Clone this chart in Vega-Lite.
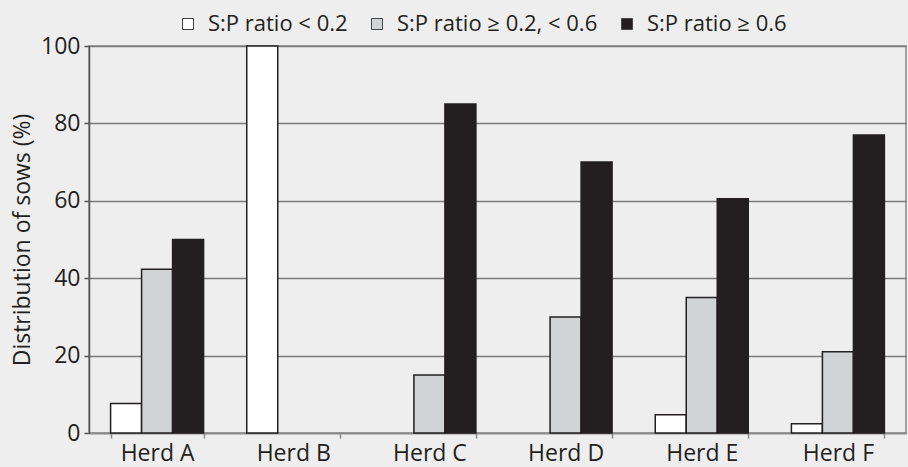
{
  "$schema": "https://vega.github.io/schema/vega-lite/v6.json",
  "width": 817,
  "height": 387,
  "autosize": {"type": "none"},
  "padding": {"left": 89, "top": 46, "right": 2, "bottom": 34},
  "background": "#eeeeee",
  "config": {
    "font": "Open Sans",
    "view": {"stroke": "#8a8a8a", "strokeWidth": 1.5}
  },
  "data": {
    "values": [
      {"herd": "Herd A", "group": "S:P ratio < 0.2", "value": 7.6},
      {"herd": "Herd A", "group": "S:P ratio ≥ 0.2, < 0.6", "value": 42.3},
      {"herd": "Herd A", "group": "S:P ratio ≥ 0.6", "value": 50},
      {"herd": "Herd B", "group": "S:P ratio < 0.2", "value": 100},
      {"herd": "Herd C", "group": "S:P ratio ≥ 0.2, < 0.6", "value": 15},
      {"herd": "Herd C", "group": "S:P ratio ≥ 0.6", "value": 85},
      {"herd": "Herd D", "group": "S:P ratio ≥ 0.2, < 0.6", "value": 30},
      {"herd": "Herd D", "group": "S:P ratio ≥ 0.6", "value": 70},
      {"herd": "Herd E", "group": "S:P ratio < 0.2", "value": 4.7},
      {"herd": "Herd E", "group": "S:P ratio ≥ 0.2, < 0.6", "value": 35},
      {"herd": "Herd E", "group": "S:P ratio ≥ 0.6", "value": 60.5},
      {"herd": "Herd F", "group": "S:P ratio < 0.2", "value": 2.4},
      {"herd": "Herd F", "group": "S:P ratio ≥ 0.2, < 0.6", "value": 21},
      {"herd": "Herd F", "group": "S:P ratio ≥ 0.6", "value": 77}
    ]
  },
  "mark": {"type": "bar", "stroke": "#231f20", "strokeWidth": 1.5},
  "encoding": {
    "x": {
      "field": "herd",
      "type": "nominal",
      "sort": ["Herd A", "Herd B", "Herd C", "Herd D", "Herd E", "Herd F"],
      "scale": {"paddingInner": 0.317, "paddingOuter": 0.1585},
      "axis": {
        "title": null,
        "labelAngle": 0,
        "tickBand": "extent",
        "labelFontSize": 23,
        "labelColor": "#231f20",
        "labelPadding": 4,
        "tickSize": 5,
        "tickColor": "#8a8a8a",
        "tickWidth": 1.5,
        "domainColor": "#8a8a8a",
        "domainWidth": 1.5
      }
    },
    "xOffset": {
      "field": "group",
      "type": "nominal",
      "scale": {"domain": ["S:P ratio < 0.2", "S:P ratio ≥ 0.2, < 0.6", "S:P ratio ≥ 0.6"], "paddingInner": 0, "paddingOuter": 0}
    },
    "y": {
      "field": "value",
      "type": "quantitative",
      "scale": {"domain": [0, 100], "nice": false},
      "axis": {
        "title": "Distribution of sows (%)",
        "titleFontSize": 23,
        "titleFontWeight": "normal",
        "titleColor": "#231f20",
        "titlePadding": 6,
        "values": [0, 20, 40, 60, 80, 100],
        "labelFontSize": 23,
        "labelColor": "#231f20",
        "labelPadding": 4,
        "tickSize": 5,
        "tickColor": "#555555",
        "tickWidth": 1.5,
        "domainColor": "#555555",
        "domainWidth": 1.5,
        "gridColor": "#7a7a7a",
        "gridWidth": 1.5
      }
    },
    "color": {
      "field": "group",
      "type": "nominal",
      "scale": {
        "domain": ["S:P ratio < 0.2", "S:P ratio ≥ 0.2, < 0.6", "S:P ratio ≥ 0.6"],
        "range": ["#ffffff", "#d1d3d4", "#231f20"]
      },
      "legend": {
        "title": null,
        "orient": "none",
        "direction": "horizontal",
        "legendX": 88,
        "legendY": -33,
        "symbolType": "square",
        "symbolSize": 121,
        "symbolStrokeColor": "#444444",
        "symbolStrokeWidth": 1,
        "symbolOpacity": 1,
        "labelFontSize": 22,
        "labelLimit": 400,
        "labelColor": "#231f20",
        "labelOffset": 9,
        "columnPadding": 18
      }
    }
  }
}
